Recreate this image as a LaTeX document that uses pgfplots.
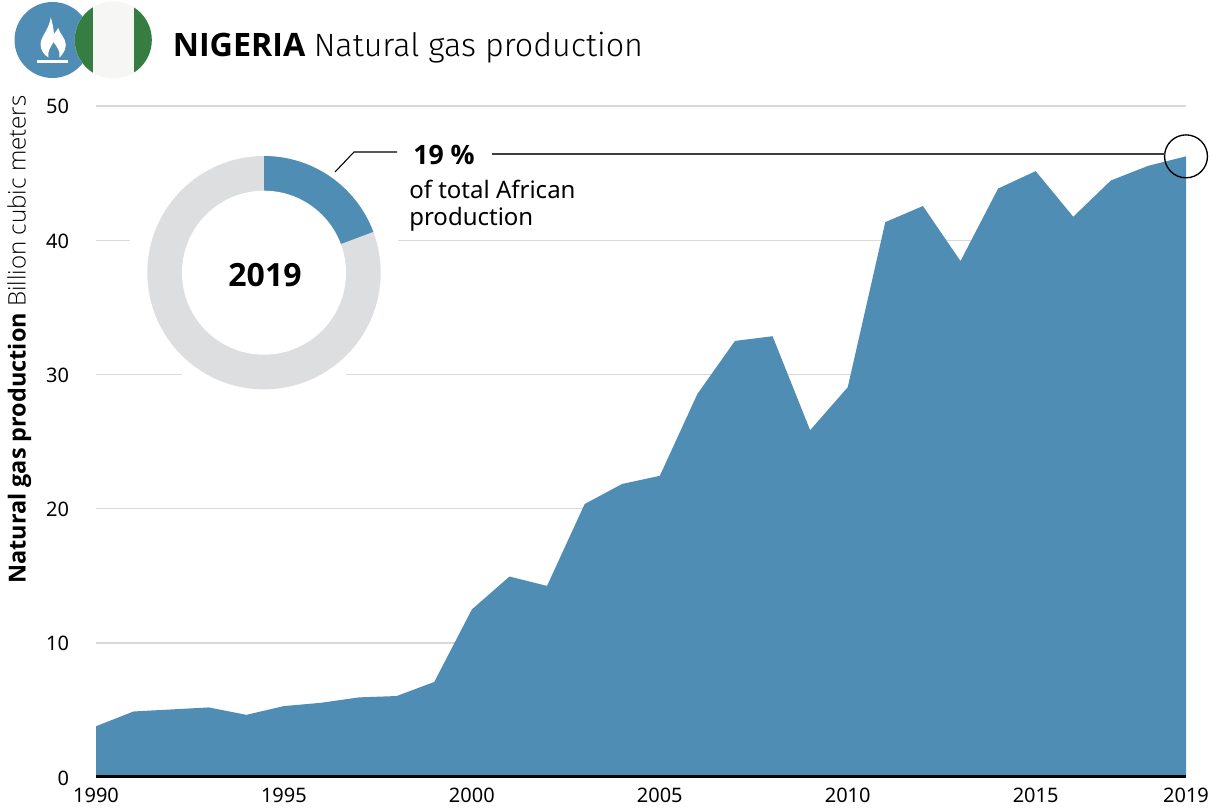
\documentclass[border=0pt]{standalone}
\usepackage{pgfplots}
\pgfplotsset{compat=1.18}
\usepackage{fontspec}
\setmainfont{Noto Sans}[BoldFont={Open Sans Bold}]
\newfontfamily\lightfont{Open Sans Light}
\newfontfamily\titlefont{Fira Sans Light}
\definecolor{gasblue}{HTML}{4F8DB5}
\definecolor{gridc}{HTML}{D8D9DA}
\definecolor{ringc}{HTML}{DDDEE0}
\definecolor{flaggreen}{HTML}{357D41}
\definecolor{flagwhite}{HTML}{F6F6F4}
\pgfplotstableread{
year value
1990 3.8
1991 4.9
1992 5.05
1993 5.2
1994 4.65
1995 5.3
1996 5.55
1997 5.95
1998 6.05
1999 7.1
2000 12.5
2001 14.95
2002 14.25
2003 20.35
2004 21.85
2005 22.45
2006 28.55
2007 32.5
2008 32.85
2009 25.85
2010 29.05
2011 41.35
2012 42.55
2013 38.45
2014 43.85
2015 45.15
2016 41.75
2017 44.45
2018 45.55
2019 46.25
}\gasdata
\begin{document}
\begin{tikzpicture}
\useasboundingbox (0,0) rectangle (909pt,606.75pt);
\begin{axis}[
  at={(72pt,23.81pt)},anchor=origin,
  scale only axis,
  width=817.5pt,height=503.44pt,
  xmin=1990,xmax=2019,ymin=0,ymax=50,
  axis x line=bottom,
  axis y line=left,
  axis line style={-},
  x axis line style={draw=none},
  y axis line style={draw=none},
  xtick={1990,1995,2000,2005,2010,2015,2019},
  ytick={0,10,20,30,40,50},
  xticklabel style={/pgf/number format/1000 sep={},inner sep=0pt,yshift=-7.5pt,text height=11pt},
  yticklabel style={inner sep=0pt,xshift=-20pt,yshift=-0.6pt},
  /pgf/number format/assume math mode=true,
  major tick length=0pt,
  tick label style={font=\fontsize{15}{18}\selectfont},
  ymajorgrids,
  grid style={gridc,line width=0.9pt},
  clip=false,
  every axis y label/.style={at={(axis description cs:-0.0705,0.652)},rotate=90,anchor=center},
  ylabel={\fontsize{17.6}{22}\selectfont\textbf{Natural gas production} {\lightfont\fontsize{18.1}{22}\selectfont Billion cubic meters}},
]
\addplot[fill=gasblue,draw=none] table[x=year,y=value]{\gasdata} \closedcycle;
\draw[black,line width=1pt] (axis cs:2019,46.25) circle[radius=16.1pt];
\draw[black,line width=2.3pt] ([yshift=0.7pt]axis cs:1990,0) -- ([yshift=0.7pt]axis cs:2019,0);
\end{axis}
\begin{scope}[shift={(0,606.75pt)},x=0.75pt,y=-0.75pt]
  % header icons
  \fill[gasblue] (52.5,40) circle[radius=28.5pt];
  \fill[white] (37,60) rectangle (68,63);
  \fill[white] (50.7,17.3) .. controls (53,24) and (53.5,30) .. (54,34)
     .. controls (55.5,32) and (57,30) .. (58.3,28)
     .. controls (59.5,34) and (66,38) .. (65.8,45)
     .. controls (65.5,51) and (62,55) .. (59.5,57.5)
     .. controls (60.5,51) and (57,47) .. (53.5,42)
     .. controls (51,47) and (47,51) .. (48.5,57.5)
     .. controls (44,55) and (40.5,50) .. (40.5,44)
     .. controls (41,36) and (50,28) .. (50.7,17.3) -- cycle;
  \fill[flagwhite] (113.3,40) circle[radius=28.9pt];
  \begin{scope}
    \clip (113.3,40) circle[radius=28.9pt];
    \fill[flaggreen] (70,0) rectangle (93,80);
    \fill[flaggreen] (134,0) rectangle (156,80);
  \end{scope}
  % title
  \node[anchor=base west,inner sep=0pt] at (172.5,57) {\fontsize{24.2}{28}\selectfont\textbf{NIGERIA} {\titlefont Natural gas production}};
  % donut
  \fill[white] (264,272.7) circle[radius=98pt];
  \fill[white] (130,235) rectangle (142,243);
  \fill[white] (385,235) rectangle (398,243);
  \begin{scope}[shift={(264,272.7)}]
    \fill[ringc] (0,0) circle[radius=87.5pt];
    \fill[gasblue] (0,0) -- (90:87.5pt) arc[start angle=90,end angle=20.5,radius=87.5pt] -- cycle;
    \fill[white] (0,0) circle[radius=61.5pt];
  \end{scope}
  \node[font=\fontsize{24}{28}\selectfont\bfseries,inner sep=0pt,anchor=base] at (265,287) {2019};
  % annotation
  \draw[black,line width=0.8pt] (335,172) -- (354,152) -- (397,152);
  \node[anchor=base west,inner sep=0pt,font=\fontsize{20}{24}\selectfont\bfseries] at (413,165) {19 \%};
  \node[anchor=base west,inner sep=0pt,font=\fontsize{18}{22}\selectfont] at (409,199) {of total African};
  \node[anchor=base west,inner sep=0pt,font=\fontsize{18}{22}\selectfont] at (409,226) {production};
  \draw[black!75,line width=1.1pt] (492,154) -- (1165,154);
\end{scope}
\end{tikzpicture}
\end{document}
